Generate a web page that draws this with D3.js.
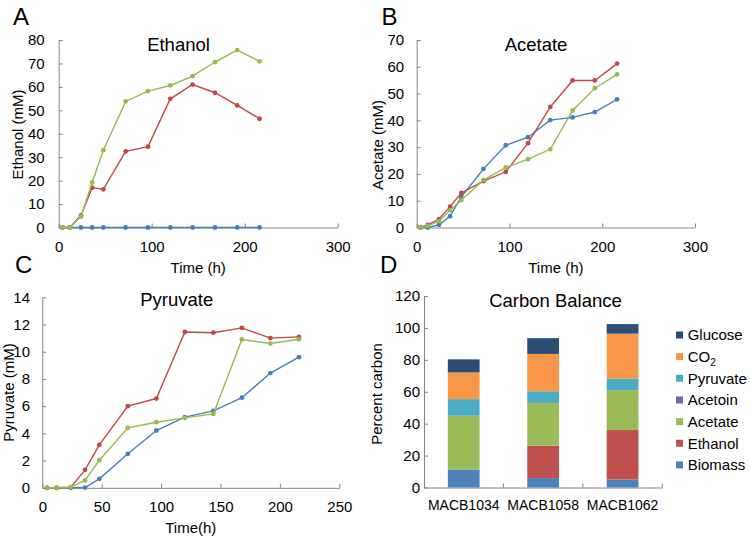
<!DOCTYPE html>
<html>
<head>
<meta charset="utf-8">
<script src="https://cdn.jsdelivr.net/npm/d3@7"></script>
<style>
  html, body { margin: 0; padding: 0; background: #fff; }
  svg { display: block; font-family: "Liberation Sans", Arial, sans-serif; }
</style>
</head>
<body>
<svg id="chart" width="750" height="541"></svg>
<script>
// ---------- DATA ----------
const timeH = [4, 12, 24, 36, 48, 72, 96, 120, 144, 168, 192, 216];

const ethanolBlue  = [0, 0, 0, 0, 0, 0, 0, 0, 0, 0, 0, 0];
const ethanolRed   = [0, 0, 5.2, 17, 16.3, 32.5, 34.5, 54.9, 61, 57.5, 52.1, 46.4];
const ethanolGreen = [0, 0, 4.7, 19.2, 33, 53.8, 58.2, 60.6, 64.6, 70.6, 75.7, 70.9];

const acetateBlue  = [0, 0, 1, 4.2, 11.4, 21.9, 30.7, 33.7, 40.1, 41.1, 43.1, 47.8];
const acetateRed   = [0, 1, 3.1, 7.8, 12.9, 17.3, 20.8, 31.5, 45, 54.9, 54.9, 61.2];
const acetateGreen = [0, 0.6, 2.4, 6.4, 10.2, 17.7, 22.4, 25.5, 29.2, 43.7, 52, 57.2];

const pyruvateBlue  = [0, 0, 0, 0.02, 0.66, 2.5, 4.21, 5.2, 5.65, 6.62, 8.43, 9.6];
const pyruvateRed   = [0, 0, 0.05, 1.32, 3.15, 6.0, 6.56, 11.45, 11.4, 11.75, 11.0, 11.09];
const pyruvateGreen = [0, 0, 0.05, 0.54, 2.03, 4.41, 4.82, 5.14, 5.43, 10.9, 10.6, 10.92];

const strains = ["MACB1034", "MACB1058", "MACB1062"];
const carbonKeys = ["Biomass", "Ethanol", "Acetate", "Acetoin", "Pyruvate", "CO2", "Glucose"];
const biomassC  = [11.3, 5.9, 5.0];
const ethanolC  = [0, 20.3, 31.0];
const acetateC  = [33.7, 26.8, 25.0];
const acetoinC  = [0, 0, 0];
const pyruvateC = [10.4, 7.3, 7.2];
const co2C      = [16.7, 23.4, 28.2];
const glucoseC  = [8.2, 9.9, 6.0];

const ethanolTicks  = [0, 10, 20, 30, 40, 50, 60, 70, 80];
const acetateTicks  = [0, 10, 20, 30, 40, 50, 60, 70];
const pyruvateTicks = [0, 2, 4, 6, 8, 10, 12, 14];
const time300Ticks  = [0, 100, 200, 300];
const time250Ticks  = [0, 50, 100, 150, 200, 250];
const percentTicks  = [0, 20, 40, 60, 80, 100, 120];

// ---------- STYLE ----------
const lineColors = { blue: "#4A7EBB", red: "#BE4B48", green: "#98B954" };
const barColors = {
  Biomass: "#4F81BD", Ethanol: "#C0504D", Acetate: "#9BBB59", Acetoin: "#8064A2",
  Pyruvate: "#4BACC6", CO2: "#F79646", Glucose: "#2C4D75"
};
const axisColor = "#868686";

const svg = d3.select("#chart");

function styleAxis(g, fontSize) {
  g.select(".domain").attr("stroke", axisColor).attr("stroke-width", 1);
  g.selectAll(".tick line").attr("stroke", axisColor).attr("stroke-width", 1);
  g.selectAll(".tick text").attr("fill", "#000").attr("font-size", fontSize)
    .attr("font-family", "'Liberation Sans', Arial, sans-serif");
}

function linePanel(cfg) {
  const x = d3.scaleLinear().domain(cfg.xDomain).range(cfg.xRange);
  const y = d3.scaleLinear().domain(cfg.yDomain).range(cfg.yRange);
  const g = svg.append("g");

  const ya = g.append("g").attr("transform", `translate(${cfg.xRange[0]},0)`)
    .call(d3.axisLeft(y).tickValues(cfg.yTicks).tickSizeInner(-4).tickSizeOuter(0).tickPadding(cfg.yPad));
  styleAxis(ya, 15);
  const xa = g.append("g").attr("transform", `translate(0,${cfg.yRange[0]})`)
    .call(d3.axisBottom(x).tickValues(cfg.xTicks).tickSizeInner(-4).tickSizeOuter(0).tickPadding(13.7));
  styleAxis(xa, 15);

  const line = d3.line().x((d, i) => x(timeH[i])).y(d => y(d));
  cfg.series.forEach(s => {
    g.append("path").datum(s.values).attr("d", line)
      .attr("fill", "none").attr("stroke", s.color).attr("stroke-width", 1.4);
    g.selectAll(null).data(s.values).enter().append("circle")
      .attr("cx", (d, i) => x(timeH[i])).attr("cy", d => y(d)).attr("r", 2.4)
      .attr("fill", s.color);
  });

  g.append("text").attr("x", cfg.title[1]).attr("y", cfg.title[2])
    .attr("text-anchor", "middle").attr("font-size", 18.5).text(cfg.title[0]);
  g.append("text").attr("x", (cfg.xRange[0] + cfg.xRange[1]) / 2).attr("y", cfg.yRange[0] + 45.5)
    .attr("text-anchor", "middle").attr("font-size", 15).text(cfg.xLabel);
  g.append("text").attr("transform", `translate(${cfg.yLabel[1]},${cfg.yLabel[2]}) rotate(-90)`)
    .attr("text-anchor", "middle").attr("dy", "0.35em").attr("font-size", 15).text(cfg.yLabel[0]);
  g.append("text").attr("x", cfg.letter[1]).attr("y", cfg.letter[2])
    .attr("font-size", 24).text(cfg.letter[0]);
}

linePanel({
  xDomain: [0, 300], xRange: [58.7, 337.7], yDomain: [0, 80], yRange: [227.5, 40],
  yTicks: ethanolTicks, xTicks: time300Ticks, yPad: 14,
  series: [
    { values: ethanolBlue, color: lineColors.blue },
    { values: ethanolRed, color: lineColors.red },
    { values: ethanolGreen, color: lineColors.green }
  ],
  title: ["Ethanol", 178.5, 50.7], xLabel: "Time (h)", yLabel: ["Ethanol (mM)", 17.3, 134.5],
  letter: ["A", 13, 25]
});

linePanel({
  xDomain: [0, 300], xRange: [416.7, 695], yDomain: [0, 70], yRange: [227.5, 40],
  yTicks: acetateTicks, xTicks: time300Ticks, yPad: 12.5,
  series: [
    { values: acetateBlue, color: lineColors.blue },
    { values: acetateRed, color: lineColors.red },
    { values: acetateGreen, color: lineColors.green }
  ],
  title: ["Acetate", 536, 50.7], xLabel: "Time (h)", yLabel: ["Acetate (mM)", 377.7, 145],
  letter: ["B", 381.5, 24.5]
});

linePanel({
  xDomain: [0, 250], xRange: [42.3, 339.3], yDomain: [0, 14], yRange: [487.8, 297.3],
  yTicks: pyruvateTicks, xTicks: time250Ticks, yPad: 12.3,
  series: [
    { values: pyruvateBlue, color: lineColors.blue },
    { values: pyruvateRed, color: lineColors.red },
    { values: pyruvateGreen, color: lineColors.green }
  ],
  title: ["Pyruvate", 176.7, 305.7], xLabel: "Time(h)", yLabel: ["Pyruvate (mM)", 8.3, 392.5],
  letter: ["C", 15, 273]
});

// ---------- PANEL D: stacked bars ----------
(function () {
  const x = d3.scaleBand().domain(strains).range([424, 662.3]).padding(0);
  const y = d3.scaleLinear().domain([0, 120]).range([487.5, 296]);
  const g = svg.append("g");

  const ya = g.append("g").attr("transform", `translate(424,0)`)
    .call(d3.axisLeft(y).tickValues(percentTicks).tickSizeInner(-4).tickSizeOuter(0).tickPadding(4));
  styleAxis(ya, 15);
  const xa = g.append("g").attr("transform", `translate(0,487.5)`)
    .call(d3.axisBottom(x).tickSize(0).tickPadding(12.6));
  styleAxis(xa, 14);
  // category boundary ticks (inside, pointing up)
  g.selectAll(null).data(strains).enter().append("line")
    .attr("x1", d => x(d) + x.bandwidth()).attr("x2", d => x(d) + x.bandwidth())
    .attr("y1", y(0)).attr("y2", y(0) - 4).attr("stroke", axisColor);

  const rows = strains.map((s, i) => ({
    strain: s, Biomass: biomassC[i], Ethanol: ethanolC[i], Acetate: acetateC[i],
    Acetoin: acetoinC[i], Pyruvate: pyruvateC[i], CO2: co2C[i], Glucose: glucoseC[i]
  }));
  const stacked = d3.stack().keys(carbonKeys)(rows);
  const bw = x.bandwidth() * 0.4;
  stacked.forEach(layer => {
    g.selectAll(null).data(layer).enter().append("rect")
      .attr("x", d => x(d.data.strain) + (x.bandwidth() - bw) / 2)
      .attr("width", bw)
      .attr("y", d => y(d[1]))
      .attr("height", d => y(d[0]) - y(d[1]))
      .attr("fill", barColors[layer.key]);
  });

  g.append("text").attr("x", 555.5).attr("y", 306.7).attr("text-anchor", "middle")
    .attr("font-size", 18.5).text("Carbon Balance");
  g.append("text").attr("transform", `translate(377,394) rotate(-90)`)
    .attr("text-anchor", "middle").attr("dy", "0.35em").attr("font-size", 15).text("Percent carbon");
  g.append("text").attr("x", 380).attr("y", 273).attr("font-size", 24).text("D");

  // legend (reverse stack order)
  const legendKeys = carbonKeys.slice().reverse();
  const leg = g.append("g");
  legendKeys.forEach((k, i) => {
    const cy = 335 + i * 21.65;
    leg.append("rect").attr("x", 676).attr("y", cy - 3.5).attr("width", 7).attr("height", 7)
      .attr("fill", barColors[k]);
    const t = leg.append("text").attr("x", 687.7).attr("y", cy + 5.4).attr("font-size", 15);
    if (k === "CO2") {
      t.append("tspan").text("CO");
      t.append("tspan").attr("font-size", 10).attr("dy", 4).text("2");
    } else {
      t.text(k);
    }
  });
})();
</script>
</body>
</html>
